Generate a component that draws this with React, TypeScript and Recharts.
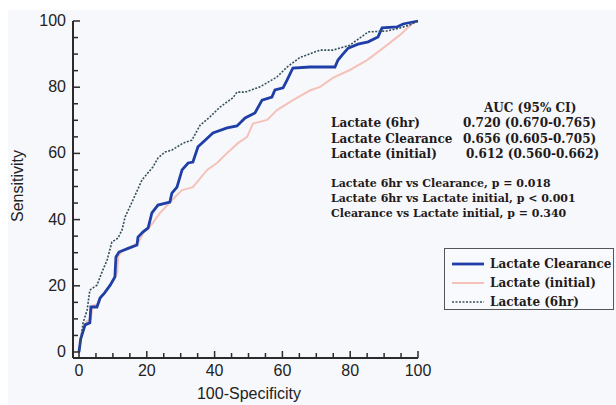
import { LineChart, Line, XAxis, YAxis, Legend } from "recharts"

// ROC points as [100-specificity, sensitivity]
const clearanceRoc = [
  [0, 0], [0.5, 4], [1.8, 8.2], [3.2, 8.8], [3.5, 13.6], [5.3, 13.6], [6.2, 16.3], [7.5, 17.8],
  [9.2, 20.2], [10.6, 22.7], [10.9, 28.7], [11.8, 30.2], [14.5, 31.3], [17.1, 32.3], [17.4, 34.7],
  [18.9, 36.3], [20.4, 37.5], [21.5, 42], [23.3, 44.4], [26.8, 45.3], [27.4, 48], [28.9, 49.8],
  [30.4, 55], [32.2, 57.1], [33.6, 57.4], [35.1, 62], [37.2, 64], [39.5, 66.2], [43.7, 67.7],
  [46.6, 68.3], [49, 70.7], [51.9, 72.2], [54, 76.1], [56.9, 77], [57.8, 79.2], [60.2, 79.8],
  [61.4, 82.2], [63.1, 85.8], [68.1, 86.1], [75.5, 86.1], [76.4, 88.2], [77.6, 89.7], [79.4, 91.8],
  [82.3, 93], [85.3, 93.7], [88.2, 95.2], [89.4, 97.9], [93.8, 98.2], [95.6, 99.1], [100, 100],
]

const initialRoc = [
  [0, 0], [0.8, 5], [2, 9], [3.5, 10], [4, 14], [5.8, 14.5], [6.7, 17], [8, 18.5], [9.8, 21],
  [11.3, 24], [11.6, 29], [12.8, 30.5], [17.5, 33], [19, 36], [21, 38], [21.8, 39], [23.9, 42],
  [28.3, 46.8], [30.4, 48.9], [33.6, 49.8], [37.8, 55], [40.7, 57.1], [43.7, 60.1], [46.9, 63.1],
  [49.6, 65], [51.3, 69], [55.5, 70.1], [58.4, 73.1], [63.1, 76.1], [68.1, 79], [71.1, 80.1],
  [74.9, 82.8], [79.9, 85.2], [85, 88.2], [89.7, 91.8], [94.7, 95.8], [98.5, 99.4], [100, 100],
]

const sixHrRoc = [
  [0, 0], [1.2, 8.8], [2.4, 12.7], [3.2, 18.7], [5.3, 20.2], [6.8, 24.2], [8.3, 27.8], [9.7, 33.2],
  [11.5, 34.4], [12.7, 36.9], [13.6, 40.8], [15.9, 45.9], [18.6, 52], [21.8, 55.9], [23.3, 58.6],
  [25.4, 60.4], [27.4, 61], [30.7, 63.1], [33.3, 64], [35.7, 68.5], [38.6, 71], [41.6, 74],
  [45.4, 76.8], [46.6, 78.5], [49, 78.5], [53.4, 80.1], [58.4, 83.1], [61.4, 86.1], [65.2, 89],
  [71.1, 91.2], [74.9, 91.2], [79.9, 92.7], [82.9, 94.9], [85.3, 96.7], [90.9, 97], [94.7, 97.9],
  [97.6, 98.8], [100, 100],
]

const axisTicks = [0, 5, 10, 15, 20, 25, 30, 35, 40, 45, 50, 55, 60, 65, 70, 75, 80, 85, 90, 95, 100]

const aucRows = [
  ["Lactate (6hr)", "0.720 (0.670-0.765)"],
  ["Lactate Clearance", "0.656 (0.605-0.705)"],
  ["Lactate (initial)", "0.612 (0.560-0.662)"],
]

const pRows = [
  "Lactate 6hr vs Clearance, p = 0.018",
  "Lactate 6hr vs Lactate initial, p < 0.001",
  "Clearance vs Lactate initial, p = 0.340",
]

const legendItems = [
  { name: "Lactate Clearance", color: "#1f3ea6", width: 2.8, dash: undefined },
  { name: "Lactate (initial)", color: "#f5c2b9", width: 2, dash: undefined },
  { name: "Lactate (6hr)", color: "#34505a", width: 1.6, dash: "2 1.5" },
]

const toPoints = (rows: number[][]) => rows.map(([x, y]) => ({ x, y }))

const AXIS = "#2b2b2b"
const SANS = "'Liberation Sans', Arial, sans-serif"
const SERIF = "'DejaVu Serif', serif"
const INK = "#231a1a"

function YTick(props: any) {
  const { x, y, payload } = props
  const major = payload.value % 20 === 0
  return (
    <g>
      <line x1={x} x2={x + (major ? 7 : 5)} y1={y} y2={y} stroke={AXIS} strokeWidth={1.5} />
      {major && (
        <text x={x - 7} y={y} dy={5} textAnchor="end" fontFamily={SANS} fontSize={16} fill="#222">
          {payload.value}
        </text>
      )}
    </g>
  )
}

function XTick(props: any) {
  const { x, y, payload } = props
  const major = payload.value % 20 === 0
  return (
    <g>
      <line x1={x} x2={x} y1={y} y2={y - (major ? 7 : 5)} stroke={AXIS} strokeWidth={1.5} />
      {major && (
        <text x={x} y={y} dy={18} textAnchor="middle" fontFamily={SANS} fontSize={16} fill="#222">
          {payload.value}
        </text>
      )}
    </g>
  )
}

function LegendBox() {
  return (
    <div
      style={{
        width: 170,
        height: 62,
        border: "1.5px solid #555",
        boxSizing: "border-box",
        background: "#f9fafd",
        padding: "5px 0 0 6px",
      }}
    >
      {legendItems.map((it) => (
        <div key={it.name} style={{ display: "flex", alignItems: "center", height: 19 }}>
          <svg width={34} height={6}>
            <line x1={1} x2={33} y1={3} y2={3} stroke={it.color} strokeWidth={it.width} strokeDasharray={it.dash} />
          </svg>
          <span style={{ fontFamily: SERIF, fontWeight: "bold", fontSize: 12, color: INK, marginLeft: 5 }}>
            {it.name}
          </span>
        </div>
      ))}
    </div>
  )
}

export default function App() {
  return (
    <div style={{ position: "absolute", left: 0, top: 0, width: 616, height: 405, background: "#fff" }}>
      <div style={{ position: "absolute", left: 8, top: 10, width: 608, height: 395, background: "#f7f8fc" }} />
      <div style={{ position: "absolute", left: 0, top: 0 }}>
        <LineChart width={616} height={405} margin={{ top: 21, right: 198, left: 0, bottom: 17 }}>
          <XAxis
            type="number"
            dataKey="x"
            domain={[0, 100]}
            ticks={axisTicks}
            interval={0}
            padding={{ left: 6, right: 0 }}
            height={30}
            tickSize={0}
            tickMargin={0}
            tickLine={false}
            tick={<XTick />}
            axisLine={{ stroke: AXIS, strokeWidth: 2 }}
          />
          <YAxis
            type="number"
            dataKey="y"
            domain={[0, 100]}
            ticks={axisTicks}
            interval={0}
            padding={{ top: 0, bottom: 6 }}
            width={73}
            tickSize={0}
            tickMargin={0}
            tickLine={false}
            tick={<YTick />}
            axisLine={{ stroke: AXIS, strokeWidth: 2 }}
          />
          <Line
            data={toPoints(initialRoc)}
            dataKey="y"
            name="Lactate (initial)"
            type="linear"
            stroke="#f5c2b9"
            strokeWidth={2}
            dot={false}
            isAnimationActive={false}
          />
          <Line
            data={toPoints(clearanceRoc)}
            dataKey="y"
            name="Lactate Clearance"
            type="linear"
            stroke="#1f3ea6"
            strokeWidth={2.8}
            dot={false}
            isAnimationActive={false}
          />
          <Line
            data={toPoints(sixHrRoc)}
            dataKey="y"
            name="Lactate (6hr)"
            type="linear"
            stroke="#34505a"
            strokeWidth={1.6}
            strokeDasharray="2 1.5"
            dot={false}
            isAnimationActive={false}
          />
          <Legend
            layout="vertical"
            align="center"
            verticalAlign="middle"
            content={<LegendBox />}
            wrapperStyle={{ left: 444, top: 248, right: "auto", bottom: "auto", width: 170, height: 62 }}
          />
          <g>
            <text
              transform="translate(23,186) rotate(-90)"
              textAnchor="middle"
              fontFamily={SANS}
              fontSize={16}
              fill="#222"
            >
              Sensitivity
            </text>
            <text x={249} y={399} textAnchor="middle" fontFamily={SANS} fontSize={16} fill="#222">
              100-Specificity
            </text>
            <g fontFamily={SERIF} fontWeight="bold" fontSize={12} fill={INK}>
              <text x={484} y={112}>AUC (95% CI)</text>
              {aucRows.map(([label, auc], i) => (
                <g key={label}>
                  <text x={331} y={127 + i * 15.5}>{label}</text>
                  <text x={i === 2 ? 466 : 463} y={127 + i * 15.5}>{auc}</text>
                </g>
              ))}
              {pRows.map((line, i) => (
                <text key={line} x={331} y={187 + i * 15} fontSize={11}>{line}</text>
              ))}
            </g>
          </g>
        </LineChart>
      </div>
    </div>
  )
}
